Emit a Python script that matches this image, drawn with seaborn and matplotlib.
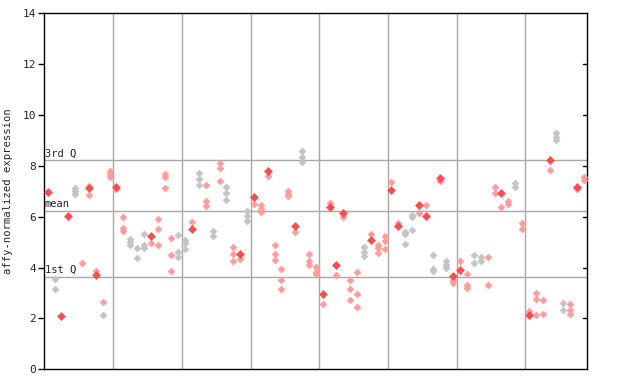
import numpy as np
import pandas as pd
import matplotlib
matplotlib.use("Agg")
import matplotlib.pyplot as plt
import seaborn as sns

# one entry per point: sample column, value, filled marker?, grey?
sample = [0, 1, 1, 2, 3, 4, 4, 4, 5, 6, 6, 6, 7, 7, 8, 8, 9, 9, 9,
          10, 10, 11, 11, 11, 12, 12, 12, 13, 13, 14, 14, 14, 15, 15, 16, 16, 16,
          17, 17, 17, 18, 18, 18, 19, 19, 19,
          20, 20, 20, 21, 21, 22, 22, 22, 23, 23, 23, 24, 24, 25, 25, 25,
          26, 26, 26, 27, 27, 27, 28, 28, 29, 29, 29,
          30, 30, 31, 31, 31, 32, 32, 33, 33, 33, 34, 34, 34, 35, 35, 35,
          36, 36, 37, 37, 37, 38, 38, 38, 39, 39, 39,
          40, 40, 41, 41, 42, 42, 43, 43, 44, 44, 44, 45, 45, 45, 46, 46, 46,
          47, 47, 48, 48, 48, 49, 49, 49,
          50, 50, 51, 51, 52, 52, 52, 53, 53, 53, 54, 54, 55, 55, 56, 56, 56,
          57, 57, 58, 58, 58, 59, 59, 59,
          60, 60, 61, 61, 61, 62, 62, 63, 63, 64, 64, 65, 65, 66, 66, 67, 67,
          68, 68, 69, 69,
          70, 70, 71, 71, 71, 72, 72, 73, 73, 74, 74, 74, 75, 75, 76, 76, 76,
          77, 77, 78, 78]
value = [6.96, 3.54, 3.15, 2.08, 6.04, 7.12, 7.01, 6.90, 4.17, 7.22, 7.12, 6.84, 3.88, 3.72, 2.63, 2.12, 7.81, 7.68, 7.57,
         7.18, 7.08, 5.98, 5.54, 5.44, 5.11, 5.00, 4.90, 4.76, 4.38, 5.31, 4.88, 4.78, 5.24, 4.95, 5.90, 5.52, 4.88,
         7.68, 7.55, 7.12, 5.16, 4.49, 3.87, 5.27, 4.60, 4.40,
         5.08, 4.98, 4.72, 5.78, 5.53, 7.71, 7.50, 7.24, 7.24, 6.62, 6.41, 5.44, 5.25, 8.10, 7.90, 7.39,
         7.16, 6.92, 6.65, 4.80, 4.52, 4.25, 4.52, 4.33, 6.24, 6.02, 5.82,
         6.79, 6.49, 6.45, 6.32, 6.19, 7.81, 7.61, 4.88, 4.52, 4.29, 3.93, 3.50, 3.15, 7.02, 6.90, 6.80,
         5.65, 5.39, 8.57, 8.34, 8.16, 4.52, 4.25, 4.09, 4.01, 3.81, 3.74,
         2.97, 2.56, 6.53, 6.39, 4.11, 3.70, 6.15, 6.00, 3.50, 3.15, 2.71, 3.81, 2.95, 2.44, 4.80, 4.62, 4.44,
         5.31, 5.10, 4.88, 4.78, 4.56, 5.23, 5.03, 4.72,
         7.35, 7.05, 5.74, 5.63, 5.39, 5.31, 4.92, 6.06, 5.98, 5.47, 6.47, 6.13, 6.47, 6.04, 4.48, 3.96, 3.85,
         7.53, 7.40, 4.25, 4.09, 4.00, 3.66, 3.52, 3.38,
         4.25, 3.89, 3.74, 3.30, 3.19, 4.48, 4.17, 4.40, 4.25, 4.40, 3.30, 7.18, 6.94, 6.94, 6.39, 6.63, 6.50,
         7.34, 7.18, 5.74, 5.50,
         2.30, 2.14, 2.99, 2.75, 2.12, 2.71, 2.16, 8.23, 7.83, 9.28, 9.15, 9.02, 2.62, 2.33, 2.57, 2.33, 2.17,
         7.18, 7.10, 7.57, 7.44]
filled = [1, 0, 0, 1, 1, 0, 0, 0, 0, 0, 1, 0, 0, 1, 0, 0, 0, 0, 0,
          1, 0, 0, 0, 0, 0, 0, 0, 0, 0, 0, 0, 0, 1, 0, 0, 0, 0,
          0, 0, 0, 0, 0, 0, 0, 0, 0,
          0, 0, 0, 0, 1, 0, 0, 0, 0, 0, 0, 0, 0, 0, 0, 0,
          0, 0, 0, 0, 0, 0, 1, 0, 0, 0, 0,
          1, 0, 0, 0, 0, 1, 0, 0, 0, 0, 0, 0, 0, 0, 0, 0,
          1, 0, 0, 0, 0, 0, 0, 0, 0, 0, 0,
          1, 0, 0, 1, 1, 0, 1, 0, 0, 0, 0, 0, 0, 0, 0, 0, 0,
          0, 1, 0, 0, 0, 0, 0, 0,
          0, 1, 0, 1, 0, 0, 0, 0, 0, 0, 1, 0, 0, 1, 0, 0, 0,
          1, 0, 0, 0, 0, 1, 0, 0,
          0, 1, 0, 0, 0, 0, 0, 0, 0, 0, 0, 0, 0, 1, 0, 0, 0,
          0, 0, 0, 0,
          0, 1, 0, 0, 0, 0, 0, 1, 0, 0, 0, 0, 0, 0, 0, 0, 0,
          1, 0, 0, 0]
grey_samples = [1, 4, 12, 13, 14, 19, 20, 22, 24, 26, 29, 37, 46, 52, 53, 56, 58, 62, 63, 68, 74, 75]

q1, mean, q3 = 3.62, 6.21, 8.22
y_ticks = [0, 2, 4, 6, 8, 10, 12, 14]
group_edges = [9.5, 19.5, 29.5, 39.5, 49.5, 59.5, 69.5]

df = pd.DataFrame({"sample": sample, "value": value, "filled": filled})
df["grey"] = df["sample"].isin(grey_samples)
df.loc[(df["sample"] == 8) & (df["value"] < 2.5), "grey"] = True

sns.set_style("white")
plt.rcParams["font.family"] = ["DejaVu Sans Mono"]

fig = plt.figure(figsize=(6.4, 3.84), dpi=100)
ax = fig.add_axes([0.0692, 0.0383, 0.8485, 0.9271])

for x in group_edges:
    ax.axvline(x, color="#a8a8a8", lw=1, zorder=1)
for y in (q1, mean, q3):
    ax.axhline(y, color="#a8a8a8", lw=1, zorder=1)

styles = [
    (False, 0, "#ff9c9c"),
    (True, 0, "#c4c4c4"),
    (False, 1, "#ff4c4c"),
    (True, 1, "#9a9a9a"),
]
for is_grey, is_filled, col in styles:
    part = df[(df["grey"] == is_grey) & (df["filled"] == is_filled)]
    sns.scatterplot(data=part, x="sample", y="value", ax=ax, marker="D",
                    s=16 if is_filled else 12, color=col, edgecolor=col,
                    linewidth=0.5, zorder=3, legend=False)

ax.set_xlim(-0.5, 78.5)
ax.set_ylim(0, 14)
ax.set_yticks(y_ticks)
ax.set_yticklabels([str(t) for t in y_ticks], fontsize=8)
ax.set_xticks([])
ax.set_xlabel("")
ax.set_ylabel("affy-normalized expression", fontsize=7.6, labelpad=7)
ax.tick_params(axis="y", direction="out", length=4, width=1, color="black", pad=2, left=True)
for sp in ax.spines.values():
    sp.set_color("black")
    sp.set_linewidth(1)

# inward ticks on the right edge
for t in y_ticks[1:-1]:
    ax.plot([77.85, 78.5], [t, t], color="black", lw=1, clip_on=False, zorder=4)

for y, lab in ((q3, "3rd Q"), (mean, "mean"), (q1, "1st Q")):
    ax.text(-0.45, y + 0.08, lab, fontsize=7.5, ha="left", va="bottom", zorder=5)

fig.savefig("out.png", dpi=100)
